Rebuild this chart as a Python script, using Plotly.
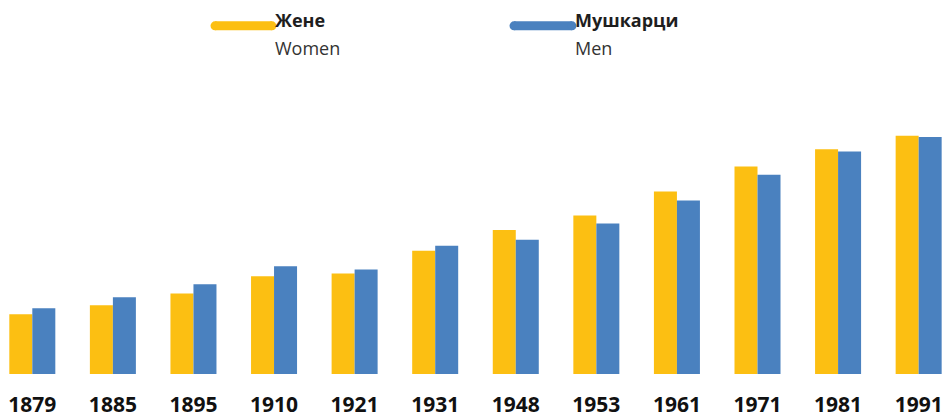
import plotly.graph_objects as go

years = ["1879", "1885", "1895", "1910", "1921", "1931", "1948", "1953", "1961", "1971", "1981", "1991"]
women = [720, 828, 968, 1176, 1208, 1484, 1732, 1908, 2196, 2496, 2703, 2868]
men = [792, 924, 1080, 1296, 1256, 1544, 1616, 1812, 2088, 2396, 2676, 2852]

women_label = ("Жене", "Women")
men_label = ("Мушкарци", "Men")

YELLOW = "#FCBF12"
BLUE = "#4A81BF"

W, H = 950, 418
mt, mb = 0, 41
ph = H - mt - mb

fig = go.Figure()
fig.add_trace(go.Bar(x=years, y=women, name=women_label[1], marker=dict(color=YELLOW, line=dict(width=0)), showlegend=False))
fig.add_trace(go.Bar(x=years, y=men, name=men_label[1], marker=dict(color=BLUE, line=dict(width=0)), showlegend=False))

def px_x(p):
    return p / W

def px_y(p):
    return (H - mb - p) / ph

shapes = []
annotations = []
for (x0, x1, col, lab) in [(215, 272, YELLOW, women_label), (514, 572, BLUE, men_label)]:
    yc = 26
    r = 4.5
    shapes.append(dict(type="line", xref="paper", yref="paper", x0=px_x(x0), x1=px_x(x1),
                       y0=px_y(yc), y1=px_y(yc), line=dict(color=col, width=9)))
    for cx in (x0, x1):
        shapes.append(dict(type="circle", xref="paper", yref="paper",
                           x0=px_x(cx - r), x1=px_x(cx + r), y0=px_y(yc - r), y1=px_y(yc + r),
                           fillcolor=col, line=dict(width=0)))
    annotations.append(dict(xref="paper", yref="paper", x=px_x(x1 + 1), y=px_y(20), xanchor="left", yanchor="middle",
                            text="<b>" + lab[0] + "</b>", showarrow=False,
                            font=dict(family="Open Sans", size=18, color="#1e1e1e")))
    annotations.append(dict(xref="paper", yref="paper", x=px_x(x1 + 1), y=px_y(48), xanchor="left", yanchor="middle",
                            text=lab[1], showarrow=False,
                            font=dict(family="Open Sans", size=18, color="#333333")))

fig.update_layout(
    width=W, height=H,
    margin=dict(l=0, r=0, t=mt, b=mb, pad=0),
    paper_bgcolor="white", plot_bgcolor="white",
    barmode="group", bargap=0.429, bargroupgap=0,
    shapes=shapes, annotations=annotations,
    hovermode=False,
    xaxis=dict(type="category", range=[-0.401, 11.389], showgrid=False, zeroline=False, showline=False,
               ticks="", ticklabelstandoff=16, fixedrange=True,
               tickfont=dict(family="Open Sans", size=21, color="#111111", weight="bold")),
    yaxis=dict(range=[0, 4500], visible=False, showgrid=False, zeroline=False, fixedrange=True),
)

fig.write_html("out.html", config={"displayModeBar": False, "staticPlot": True},
               post_script="document.body.style.margin='0';document.body.style.overflow='hidden';")
